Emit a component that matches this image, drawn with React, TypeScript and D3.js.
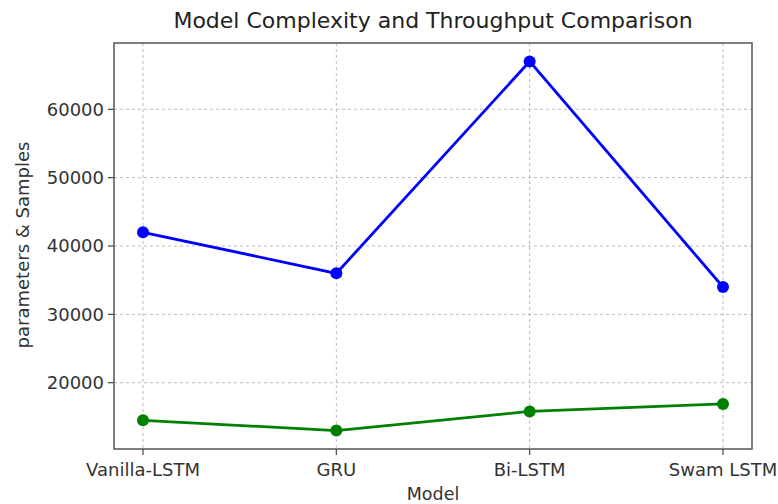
import React from "react";
import * as d3 from "d3";

const categories = ["Vanilla-LSTM", "GRU", "Bi-LSTM", "Swam LSTM"];
const parameters = [42000, 36000, 67000, 34000];
const samples = [14500, 13000, 15800, 16900];
const yTicks = [20000, 30000, 40000, 50000, 60000];

const W = 778, H = 504;
const M = { left: 114, right: 752, top: 43, bottom: 449 };
const FONT = "DejaVu Sans, sans-serif";

export default function App() {
  const all = [...parameters, ...samples];
  const lo = d3.min(all)!, hi = d3.max(all)!;
  const pad = (hi - lo) * 0.05;
  const y = d3.scaleLinear().domain([lo - pad, hi + pad]).range([M.bottom, M.top]);
  const x = d3.scaleLinear().domain([-0.15, categories.length - 1 + 0.15]).range([M.left, M.right]);
  const line = d3.line<number>().x((_, i) => x(i)).y((d) => y(d));
  const series = [
    { values: parameters, color: "#0000ff" },
    { values: samples, color: "#008000" },
  ];
  return (
    <svg width={W} height={H} style={{ position: "absolute", left: 0, top: 0, background: "#fff" }}>
      <rect x={0} y={0} width={W} height={H} fill="#fff" />
      <text x={(M.left + M.right) / 2} y={28} textAnchor="middle" fontFamily={FONT} fontSize={22} fill="#222">
        Model Complexity and Throughput Comparison
      </text>
      {categories.map((c, i) => (
        <g key={c}>
          <line x1={x(i)} x2={x(i)} y1={M.top} y2={M.bottom} stroke="#bbb" strokeWidth={1} strokeDasharray="3,3" />
          <line x1={x(i)} x2={x(i)} y1={M.bottom} y2={M.bottom + 6} stroke="#444" strokeWidth={1.2} />
          <text x={x(i)} y={M.bottom + 27} textAnchor="middle" fontFamily={FONT} fontSize={18} fill="#333">
            {c}
          </text>
        </g>
      ))}
      {yTicks.map((t) => (
        <g key={t}>
          <line x1={M.left} x2={M.right} y1={y(t)} y2={y(t)} stroke="#bbb" strokeWidth={1} strokeDasharray="3,3" />
          <line x1={M.left - 6} x2={M.left} y1={y(t)} y2={y(t)} stroke="#444" strokeWidth={1.2} />
          <text x={M.left - 10} y={y(t)} dy="0.35em" textAnchor="end" fontFamily={FONT} fontSize={18} fill="#333">
            {t}
          </text>
        </g>
      ))}
      {series.map((s, si) => (
        <g key={si}>
          <path d={line(s.values)!} fill="none" stroke={s.color} strokeWidth={2.8} />
          {s.values.map((v, i) => (
            <circle key={i} cx={x(i)} cy={y(v)} r={6} fill={s.color} />
          ))}
        </g>
      ))}
      <rect x={M.left} y={M.top} width={M.right - M.left} height={M.bottom - M.top} fill="none" stroke="#555" strokeWidth={1.5} />
      <text x={(M.left + M.right) / 2} y={500} textAnchor="middle" fontFamily={FONT} fontSize={17.5} fill="#333">
        Model
      </text>
      <text transform={`translate(29,245) rotate(-90)`} textAnchor="middle" fontFamily={FONT} fontSize={18} fill="#333">
        parameters &amp; Samples
      </text>
    </svg>
  );
}
